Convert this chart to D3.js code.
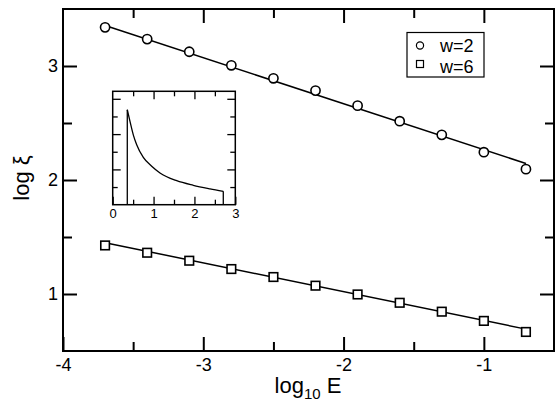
<!DOCTYPE html>
<html>
<head>
<meta charset="utf-8">
<script src="https://cdn.jsdelivr.net/npm/d3@7"></script>
<style>
  html, body { margin: 0; padding: 0; background: #fff; }
  svg { display: block; font-family: "Liberation Sans", Arial, Helvetica, sans-serif; }
</style>
</head>
<body>
<svg id="chart" width="555" height="402"></svg>
<script>
// ---- Data ----
const logE = [-3.7, -3.4, -3.1, -2.8, -2.5, -2.2, -1.9, -1.6, -1.3, -1.0, -0.7];
const w2 = [3.339, 3.236, 3.125, 3.006, 2.892, 2.784, 2.652, 2.516, 2.396, 2.244, 2.095];
const w6 = [1.426, 1.362, 1.292, 1.219, 1.149, 1.073, 0.996, 0.923, 0.845, 0.764, 0.667];
const fitX = [-3.7, -0.7];
const w2Fit = [3.355, 2.145];
const w6Fit = [1.450, 0.692];
const seriesNames = ["w=2", "w=6"];

const xMajor = [-4, -3, -2, -1];
const xMinor = [-3.5, -2.5, -1.5];
const yMajor = [1, 2, 3];
const yMinor = [1.5, 2.5];

// inset curve
const insetX = [0.357, 0.423, 0.504, 0.587, 0.749, 0.954, 1.157, 1.566, 1.972, 2.381, 2.706];
const insetY = [2.69, 2.36, 1.98, 1.70, 1.34, 1.09, 0.90, 0.68, 0.55, 0.45, 0.38];
const insetXMajor = [0, 1, 2, 3];
const insetXMinor = [0.5, 1.5, 2.5];
const insetYMajor = [1, 2, 3];
const insetYMinor = [0.5, 1.5, 2.5];

// ---- Layout ----
const svg = d3.select("#chart");
const L = 63, R = 554, T = 9, B = 351;
const x = d3.scaleLinear().domain([-4, -0.5]).range([L, R]);
const y = d3.scaleLinear().domain([0.5, 3.5]).range([B, T]);
const fmt = d => String(d);

function ticks(g, axisFn, scale, vals, len, labels, pad, fs) {
  const ax = axisFn(scale).tickValues(vals).tickSizeInner(-len).tickSizeOuter(0).tickPadding(pad);
  if (!labels) ax.tickFormat("");
  else ax.tickFormat(fmt);
  g.call(ax);
  g.select(".domain").remove();
  g.selectAll(".tick line").attr("stroke", "#000").attr("stroke-width", 2);
  g.selectAll(".tick text").attr("fill", "#000").style("font-size", fs + "px")
    .style("font-family", '"Liberation Sans", Arial, sans-serif');
  return g;
}

// main axes ticks
ticks(svg.append("g").attr("transform", `translate(0,${B})`), d3.axisBottom, x, xMajor, 14, true, 7, 18);
ticks(svg.append("g").attr("transform", `translate(0,${B})`), d3.axisBottom, x, xMinor, 9, false, 7, 18);
ticks(svg.append("g").attr("transform", `translate(0,${T})`), d3.axisTop, x, xMajor.filter(d => d > -4), 14, false, 7, 18);
ticks(svg.append("g").attr("transform", `translate(0,${T})`), d3.axisTop, x, xMinor, 9, false, 7, 18);
ticks(svg.append("g").attr("transform", `translate(${L},0)`), d3.axisLeft, y, yMajor, 14, true, 5, 18);
ticks(svg.append("g").attr("transform", `translate(${L},0)`), d3.axisLeft, y, yMinor, 9, false, 5, 18);
ticks(svg.append("g").attr("transform", `translate(${R},0)`), d3.axisRight, y, yMajor, 14, false, 5, 18);
ticks(svg.append("g").attr("transform", `translate(${R},0)`), d3.axisRight, y, yMinor, 9, false, 5, 18);

// frame
svg.append("rect").attr("x", L).attr("y", T).attr("width", R - L).attr("height", B - T)
  .attr("fill", "none").attr("stroke", "#000").attr("stroke-width", 2);

// fit lines
const line = d3.line().x(d => x(d[0])).y(d => y(d[1]));
svg.append("path").datum(fitX.map((v, i) => [v, w2Fit[i]])).attr("d", line)
  .attr("fill", "none").attr("stroke", "#000").attr("stroke-width", 1.5);
svg.append("path").datum(fitX.map((v, i) => [v, w6Fit[i]])).attr("d", line)
  .attr("fill", "none").attr("stroke", "#000").attr("stroke-width", 1.5);

// markers
svg.append("g").selectAll("circle").data(logE.map((v, i) => [v, w2[i]])).join("circle")
  .attr("cx", d => x(d[0])).attr("cy", d => y(d[1])).attr("r", 4.6)
  .attr("fill", "#fff").attr("stroke", "#000").attr("stroke-width", 1.6);
svg.append("g").selectAll("rect").data(logE.map((v, i) => [v, w6[i]])).join("rect")
  .attr("x", d => x(d[0]) - 4.3).attr("y", d => y(d[1]) - 4.3).attr("width", 8.6).attr("height", 8.6)
  .attr("fill", "#fff").attr("stroke", "#000").attr("stroke-width", 1.6);

// legend
const lg = svg.append("g");
lg.append("rect").attr("x", 407).attr("y", 32.5).attr("width", 77).attr("height", 44.5)
  .attr("fill", "#fff").attr("stroke", "#000").attr("stroke-width", 1.2);
lg.append("circle").attr("cx", 420).attr("cy", 45.5).attr("r", 3.6)
  .attr("fill", "none").attr("stroke", "#000").attr("stroke-width", 1.2);
lg.append("rect").attr("x", 416.5).attr("y", 60.5).attr("width", 7).attr("height", 7)
  .attr("fill", "none").attr("stroke", "#000").attr("stroke-width", 1.2);
lg.append("text").attr("x", 440).attr("y", 52).text(seriesNames[0]).style("font-size", "18px");
lg.append("text").attr("x", 440).attr("y", 73).text(seriesNames[1]).style("font-size", "18px");

// axis titles
const xt = svg.append("text").attr("x", 308).attr("y", 392.5).attr("text-anchor", "middle")
  .style("font-size", "22px");
xt.append("tspan").text("log");
xt.append("tspan").attr("dy", 6).style("font-size", "15px").text("10");
xt.append("tspan").attr("dy", -6).text(" E");

svg.append("text").attr("transform", "translate(29,178) rotate(-90)").attr("text-anchor", "middle")
  .style("font-size", "22px").text("log ξ");

// ---- Inset ----
const iL = 112.7, iR = 235.3, iT = 91.3, iB = 204.7;
const xi = d3.scaleLinear().domain([0, 3]).range([iL, iR]);
const yi = d3.scaleLinear().domain([0, 3.2]).range([iB, iB - 3.2 * 35.3]);
const ins = svg.append("g");
ins.append("rect").attr("x", iL).attr("y", iT).attr("width", iR - iL).attr("height", iB - iT)
  .attr("fill", "#fff").attr("stroke", "none");

function iticks(g, axisFn, scale, vals, len, labels) {
  const ax = axisFn(scale).tickValues(vals).tickSizeInner(-len).tickSizeOuter(0).tickPadding(4);
  if (!labels) ax.tickFormat(""); else ax.tickFormat(fmt);
  g.call(ax);
  g.select(".domain").remove();
  g.selectAll(".tick line").attr("stroke", "#000").attr("stroke-width", 1.3);
  g.selectAll(".tick text").attr("fill", "#000").style("font-size", "13px")
    .style("font-family", '"Liberation Sans", Arial, sans-serif');
}
iticks(ins.append("g").attr("transform", `translate(0,${iB})`), d3.axisBottom, xi, insetXMajor, 8, true);
iticks(ins.append("g").attr("transform", `translate(0,${iB})`), d3.axisBottom, xi, insetXMinor, 5, false);
iticks(ins.append("g").attr("transform", `translate(0,${iT})`), d3.axisTop, xi, insetXMajor.slice(1, 3), 8, false);
iticks(ins.append("g").attr("transform", `translate(0,${iT})`), d3.axisTop, xi, insetXMinor, 5, false);
iticks(ins.append("g").attr("transform", `translate(${iL},0)`), d3.axisLeft, yi, insetYMajor, 8, false);
iticks(ins.append("g").attr("transform", `translate(${iL},0)`), d3.axisLeft, yi, insetYMinor, 5, false);
iticks(ins.append("g").attr("transform", `translate(${iR},0)`), d3.axisRight, yi, insetYMajor, 8, false);
iticks(ins.append("g").attr("transform", `translate(${iR},0)`), d3.axisRight, yi, insetYMinor, 5, false);

ins.append("rect").attr("x", iL).attr("y", iT).attr("width", iR - iL).attr("height", iB - iT)
  .attr("fill", "none").attr("stroke", "#000").attr("stroke-width", 1.5);

const curve = insetX.map((v, i) => [v, insetY[i]]);
ins.append("path").datum(curve)
  .attr("d", d3.line().x(d => xi(d[0])).y(d => yi(d[1])).curve(d3.curveMonotoneX))
  .attr("fill", "none").attr("stroke", "#000").attr("stroke-width", 1.3);
// vertical edges of the curve
const first = curve[0], last = curve[curve.length - 1];
[first, last].forEach(p => {
  ins.append("line").attr("x1", xi(p[0])).attr("x2", xi(p[0]))
    .attr("y1", yi(0)).attr("y2", yi(p[1]))
    .attr("stroke", "#000").attr("stroke-width", 1.3);
});
</script>
</body>
</html>
